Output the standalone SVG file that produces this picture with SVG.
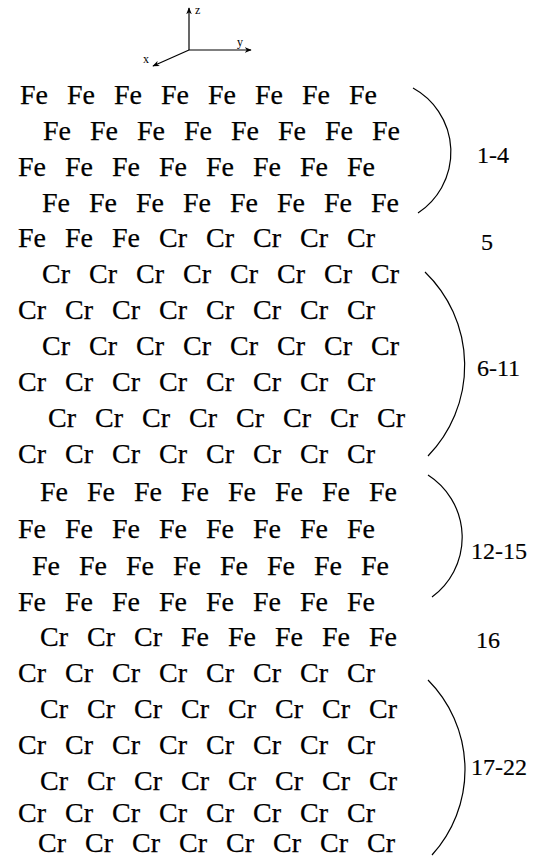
<svg xmlns="http://www.w3.org/2000/svg" width="550" height="859" viewBox="0 0 550 859">
  <style>
    .atom { font-family: "Liberation Serif", "Times New Roman", serif; font-size: 28px; fill: #000; stroke: #000; stroke-width: 0.25; word-spacing: 12px; }
    .lbl { font-family: "Liberation Serif", "Times New Roman", serif; font-size: 24px; fill: #000; stroke: #000; stroke-width: 0.2; }
    .ax { font-family: "Liberation Serif", "Times New Roman", serif; font-size: 12px; fill: #000; }
    .brace { fill: none; stroke: #000; stroke-width: 1.2; }
    .axis { fill: none; stroke: #000; stroke-width: 1.2; marker-end: url(#tip); }
  </style>
  <defs>
    <marker id="tip" viewBox="0 0 10 10" refX="9" refY="5" markerWidth="7" markerHeight="7" orient="auto" markerUnits="userSpaceOnUse">
      <path d="M0,1 L10,5 L0,9 L3,5 Z" fill="#000"/>
    </marker>
  </defs>
  <rect width="550" height="859" fill="#fff"/>

  <!-- coordinate axes -->
  <g id="axes">
    <line class="axis" x1="189" y1="50" x2="189" y2="8"/>
    <line class="axis" x1="189" y1="50" x2="251" y2="50"/>
    <line class="axis" x1="189" y1="50" x2="153" y2="66"/>
    <text class="ax" x="195" y="14">z</text>
    <text class="ax" x="237" y="46">y</text>
    <text class="ax" x="143" y="63">x</text>
  </g>

  <!-- atomic layers, top to bottom -->
  <g id="layers">
    <text class="atom" x="20" y="104">Fe Fe Fe Fe Fe Fe Fe Fe</text>
    <text class="atom" x="43" y="140">Fe Fe Fe Fe Fe Fe Fe Fe</text>
    <text class="atom" x="18" y="176">Fe Fe Fe Fe Fe Fe Fe Fe</text>
    <text class="atom" x="42" y="212">Fe Fe Fe Fe Fe Fe Fe Fe</text>
    <text class="atom" x="18" y="247">Fe Fe Fe Cr Cr Cr Cr Cr</text>
    <text class="atom" x="42" y="283">Cr Cr Cr Cr Cr Cr Cr Cr</text>
    <text class="atom" x="18" y="319">Cr Cr Cr Cr Cr Cr Cr Cr</text>
    <text class="atom" x="42" y="355">Cr Cr Cr Cr Cr Cr Cr Cr</text>
    <text class="atom" x="18" y="391">Cr Cr Cr Cr Cr Cr Cr Cr</text>
    <text class="atom" x="48" y="427">Cr Cr Cr Cr Cr Cr Cr Cr</text>
    <text class="atom" x="18" y="463">Cr Cr Cr Cr Cr Cr Cr Cr</text>
    <text class="atom" x="40" y="501">Fe Fe Fe Fe Fe Fe Fe Fe</text>
    <text class="atom" x="18" y="538">Fe Fe Fe Fe Fe Fe Fe Fe</text>
    <text class="atom" x="32" y="575">Fe Fe Fe Fe Fe Fe Fe Fe</text>
    <text class="atom" x="18" y="611">Fe Fe Fe Fe Fe Fe Fe Fe</text>
    <text class="atom" x="40" y="646">Cr Cr Cr Fe Fe Fe Fe Fe</text>
    <text class="atom" x="18" y="682">Cr Cr Cr Cr Cr Cr Cr Cr</text>
    <text class="atom" x="40" y="718">Cr Cr Cr Cr Cr Cr Cr Cr</text>
    <text class="atom" x="18" y="754">Cr Cr Cr Cr Cr Cr Cr Cr</text>
    <text class="atom" x="40" y="790">Cr Cr Cr Cr Cr Cr Cr Cr</text>
    <text class="atom" x="18" y="822">Cr Cr Cr Cr Cr Cr Cr Cr</text>
    <text class="atom" x="38" y="852">Cr Cr Cr Cr Cr Cr Cr Cr</text>
  </g>

  <!-- brackets grouping layers -->
  <g id="brackets">
    <path class="brace" d="M413,88 A73,73 0 0,1 418,213"/>
    <path class="brace" d="M425,272 A130,130 0 0,1 428,456"/>
    <path class="brace" d="M428,475 A74,74 0 0,1 432,597"/>
    <path class="brace" d="M428,680 A127,127 0 0,1 432,855"/>
  </g>

  <!-- layer index labels -->
  <g id="labels">
    <text class="lbl" x="477" y="163">1-4</text>
    <text class="lbl" x="481" y="250">5</text>
    <text class="lbl" x="477" y="376">6-11</text>
    <text class="lbl" x="471" y="559">12-15</text>
    <text class="lbl" x="476" y="648">16</text>
    <text class="lbl" x="471" y="775">17-22</text>
  </g>
</svg>
